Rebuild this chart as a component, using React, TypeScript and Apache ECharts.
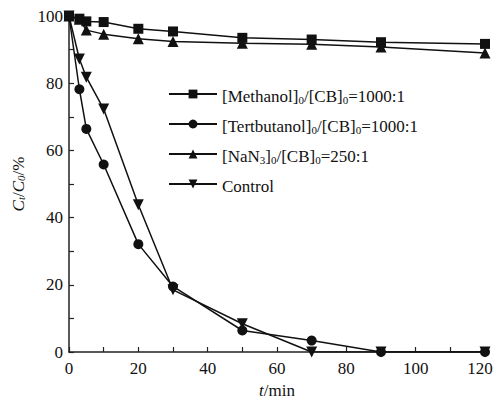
import React, { useEffect, useRef } from "react";
import * as echarts from "echarts";

const times = [0, 3, 5, 10, 20, 30, 50, 70, 90, 120];
const methanol = [100, 99.2, 98.4, 98.2, 96.2, 95.4, 93.5, 93.0, 92.2, 91.7];
const tertbutanol = [100, 78.2, 66.4, 55.8, 32.1, 19.5, 6.4, 3.4, 0, 0];
const nan3 = [100, 99.0, 95.8, 94.6, 93.2, 92.4, 91.9, 91.6, 90.8, 89.0];
const control = [100, 87.2, 81.8, 72.3, 43.8, 18.5, 8.4, 0, 0, 0];

const seriesNames = [
  "{a|[Methanol]}{s|0}{a|/[CB]}{s|0}{a|=1000:1}",
  "{a|[Tertbutanol]}{s|0}{a|/[CB]}{s|0}{a|=1000:1}",
  "{a|[NaN}{s|3}{a|]}{s|0}{a|/[CB]}{s|0}{a|=250:1}",
  "{a|Control}",
];
const seriesData = [methanol, tertbutanol, nan3, control];
const symbols = ["rect", "circle", "triangle", "path://M0,0L10,0L5,9Z"];
const symbolSizes = [10, 10, 11, 11];

const FONT = "Liberation Serif";

export default function App() {
  const ref = useRef<HTMLDivElement>(null);
  useEffect(() => {
    if (!ref.current) return;
    const chart = echarts.init(ref.current, undefined, { renderer: "svg" });
    const series = seriesData.map((vals, i) => ({
      name: seriesNames[i],
      type: "line",
      data: times.map((t, j) => [t, vals[j]]),
      symbol: symbols[i],
      symbolSize: symbolSizes[i],
      showAllSymbol: true,
      lineStyle: { color: "#111", width: 1.5 },
      itemStyle: { color: "#111" },
      z: 2,
    }));
    chart.setOption({
      animation: false,
      backgroundColor: "#fff",
      textStyle: { fontFamily: FONT },
      grid: { left: 69, right: 10, top: 16, bottom: 50, containLabel: false, outerBoundsMode: "none" },
      legend: {
        orient: "vertical",
        left: 163,
        top: 83,
        itemWidth: 48,
        itemHeight: 11,
        itemGap: 13,
        data: seriesNames,
        textStyle: {
          fontFamily: FONT,
          fontSize: 17,
          color: "#111",
          rich: {
            a: { fontFamily: FONT, fontSize: 17, color: "#111", lineHeight: 22, verticalAlign: "bottom" },
            s: { fontFamily: FONT, fontSize: 11, color: "#111", lineHeight: 11, verticalAlign: "bottom" },
          },
        },
      },
      xAxis: {
        type: "value",
        min: 0,
        max: 120,
        interval: 20,
        name: "{i|t}{n|/min}",
        nameLocation: "middle",
        nameGap: 30,
        nameTextStyle: {
          fontFamily: FONT,
          fontSize: 17,
          rich: {
            i: { fontFamily: FONT, fontSize: 17, fontStyle: "italic", color: "#111" },
            n: { fontFamily: FONT, fontSize: 17, color: "#111" },
          },
        },
        axisLine: { show: true, lineStyle: { color: "#222", width: 1.5 } },
        axisTick: { show: true, inside: true, length: 5, lineStyle: { color: "#222", width: 1.2 } },
        minorTick: { show: true, splitNumber: 2, length: 5, lineStyle: { color: "#222", width: 1.2 } },
        axisLabel: {
          fontFamily: FONT,
          fontSize: 17,
          color: "#111",
          margin: 8,
          formatter: (v: number) => (v === 120 ? "{m|120}" : String(v)),
          rich: { m: { fontFamily: FONT, fontSize: 17, color: "#111", padding: [0, 10, 0, 0] } },
        },
        splitLine: { show: false },
      },
      yAxis: {
        type: "value",
        min: 0,
        max: 100,
        interval: 20,
        name: "{i|C}{s|t}{n|/}{i|C}{s|0}{n|/%}",
        nameLocation: "middle",
        nameGap: 42,
        nameRotate: 90,
        nameTextStyle: {
          fontFamily: FONT,
          fontSize: 17,
          rich: {
            i: { fontFamily: FONT, fontSize: 17, fontStyle: "italic", color: "#111", lineHeight: 22, verticalAlign: "bottom" },
            s: { fontFamily: FONT, fontSize: 11, fontStyle: "italic", color: "#111", lineHeight: 11, verticalAlign: "bottom" },
            n: { fontFamily: FONT, fontSize: 17, color: "#111", lineHeight: 22, verticalAlign: "bottom" },
          },
        },
        axisLine: { show: true, lineStyle: { color: "#222", width: 1.5 } },
        axisTick: { show: true, inside: true, length: 5, lineStyle: { color: "#222", width: 1.2 } },
        minorTick: { show: true, splitNumber: 2, length: 5, lineStyle: { color: "#222", width: 1.2 } },
        axisLabel: { fontFamily: FONT, fontSize: 17, color: "#111", margin: 6 },
        splitLine: { show: false },
      },
      series,
    });
    return () => chart.dispose();
  }, []);
  return <div ref={ref} style={{ width: 495, height: 402, position: "absolute", left: 0, top: 0 }} />;
}
